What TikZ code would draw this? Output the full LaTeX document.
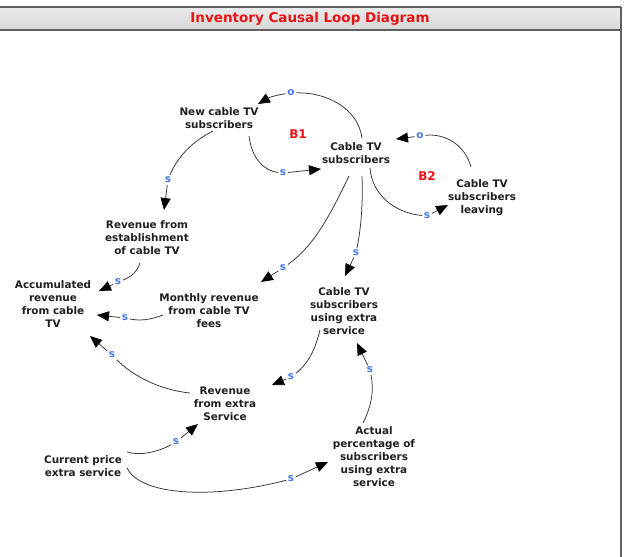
\documentclass[tikz,border=0pt]{standalone}
\usepackage{fontspec}
\setmainfont{DejaVu Sans}
\usetikzlibrary{arrows.meta,calc}
\definecolor{lblblue}{RGB}{70,120,235}
\definecolor{loopred}{RGB}{230,20,20}
\definecolor{framegray}{RGB}{95,95,95}
\definecolor{barlight}{RGB}{234,234,234}
\definecolor{bardark}{RGB}{216,216,216}
\begin{document}
\begin{tikzpicture}[x=1pt,y=-1pt,
  var/.style={font=\fontsize{10.4}{13}\selectfont\bfseries, align=center, inner sep=0pt, text=black!88},
  pol/.style={font=\fontsize{10.5}{10.5}\selectfont\bfseries, text=lblblue, inner sep=1.6pt},
  link/.style={draw=black!80, line width=0.75pt},
  arr/.style={link, -{Triangle[length=12pt,width=10pt,color=black]}},
  loopname/.style={font=\fontsize{12}{12}\selectfont\bfseries, text=loopred},
  titletext/.style={font=\fontsize{13.5}{13.5}\selectfont\bfseries, text=loopred}]
\useasboundingbox (0,0) rectangle (625,557);
% frame
\shade[top color=barlight, bottom color=bardark] (0,7) rectangle (621,30);
\draw[framegray, line width=1.5pt] (0,7) -- (621,7);
\draw[framegray, line width=1.5pt] (0,30) -- (621,30);
\draw[framegray, line width=1.5pt] (621,7) -- (621,557);
\node[titletext] (title) at (310,19) {Inventory Causal Loop Diagram};
% variables
\node[var] (ncts) at (219,118) {New cable TV\\subscribers};
\node[var] (cts)  at (356,153) {Cable TV\\subscribers};
\node[var] (ctsl) at (482,198) {Cable TV\\subscribers\\leaving};
\node[var] (rfe)  at (147,238) {Revenue from\\establishment\\of cable TV};
\node[var] (acc)  at (53,304)  {Accumulated\\revenue\\from cable\\TV};
\node[var] (mon)  at (209,311) {Monthly revenue\\from cable TV\\fees};
\node[var] (ctse) at (344,311) {Cable TV\\subscribers\\using extra\\service};
\node[var] (rfx)  at (225,404) {Revenue\\from extra\\Service};
\node[var] (cur)  at (83,466)  {Current price\\extra service};
\node[var] (act)  at (374,457) {Actual\\percentage of\\subscribers\\using extra\\service};
% loop names
\node[loopname] (b1) at (298,134) {B1};
\node[loopname] (b2) at (427,176) {B2};
% polarity labels
\node[pol] (o1)  at (291,93)  {o};
\node[pol] (s1)  at (283,173) {s};
\node[pol] (s2)  at (168,180) {s};
\node[pol] (s3)  at (427,216) {s};
\node[pol] (o2)  at (420,136) {o};
\node[pol] (s4)  at (283,268) {s};
\node[pol] (s5)  at (356,253) {s};
\node[pol] (s6)  at (118,282) {s};
\node[pol] (s7)  at (125,318) {s};
\node[pol] (s8)  at (112,355) {s};
\node[pol] (s9)  at (291,377) {s};
\node[pol] (s10) at (370,370) {s};
\node[pol] (s11) at (176,442) {s};
\node[pol] (s12) at (291,479) {s};
% C1 cts -> ncts
\draw[link] ($(cts.center)+(6,-15)$) .. controls ($(cts.center)+(2,-45)$) and ($(cts.center)+(-30,-61)$) .. (o1);
\draw[arr] (o1) .. controls (277,95) and (270,97) .. ($(ncts.center)+(39,-14)$);
% C2 ncts -> cts
\draw[link] ($(ncts.center)+(30,18)$) .. controls ($(ncts.center)+(33,42)$) and ($(ncts.center)+(46,53)$) .. (s1);
\draw[arr] (s1) -- ($(cts.center)+(-35,16)$);
% C3 ncts -> rfe
\draw[link] ($(ncts.center)+(-6,13)$) .. controls ($(ncts.center)+(-24,22)$) and ($(ncts.center)+(-41,37)$) .. (s2);
\draw[arr] (s2) -- ($(rfe.center)+(17,-28)$);
% C4 cts -> ctsl
\draw[link] ($(cts.center)+(14,15)$) .. controls ($(cts.center)+(16,42)$) and ($(cts.center)+(39,60)$) .. (s3);
\draw[arr] (s3) -- ($(ctsl.center)+(-34,7)$);
% C5 ctsl -> cts
\draw[link] ($(ctsl.center)+(-11,-31)$) .. controls ($(ctsl.center)+(-17,-53)$) and ($(ctsl.center)+(-37,-65)$) .. (o2);
\draw[arr] (o2) -- ($(cts.center)+(40,-14)$);
% C6 cts -> mon
\draw[link] ($(cts.center)+(-7,23)$) .. controls ($(cts.center)+(-26,62)$) and ($(cts.center)+(-41,92)$) .. (s4);
\draw[arr] (s4) -- ($(mon.center)+(52,-29)$);
% C7 cts -> ctse
\draw[link] ($(cts.center)+(6,23)$) .. controls ($(cts.center)+(7,52)$) and ($(cts.center)+(5,75)$) .. (s5);
\draw[arr] (s5) -- ($(ctse.center)+(1,-35)$);
% C8 rfe -> acc
\draw[link] ($(rfe.center)+(-7,25)$) .. controls ($(rfe.center)+(-10,34)$) and ($(rfe.center)+(-16,39)$) .. (s6);
\draw[arr] (s6) -- ($(acc.center)+(46,-13)$);
% C9 mon -> acc
\draw[link] ($(mon.center)+(-46,4)$) .. controls ($(mon.center)+(-59,9)$) and ($(mon.center)+(-69,10)$) .. (s7);
\draw[arr] (s7) -- ($(acc.center)+(44,11)$);
% C10 rfx -> acc
\draw[link] ($(rfx.center)+(-35,-11)$) .. controls ($(rfx.center)+(-65,-14)$) and ($(rfx.center)+(-92,-28)$) .. (s8);
\draw[arr] (s8) -- ($(acc.center)+(37,32)$);
% C11 ctse -> rfx
\draw[link] ($(ctse.center)+(-24,19)$) .. controls ($(ctse.center)+(-29,39)$) and ($(ctse.center)+(-36,53)$) .. (s9);
\draw[arr] (s9) -- ($(rfx.center)+(47,-19)$);
% C12 act -> ctse
\draw[link] ($(act.center)+(-11,-34)$) .. controls ($(act.center)+(-2,-52)$) and ($(act.center)+(0,-67)$) .. (s10);
\draw[arr] (s10) -- ($(ctse.center)+(13,32)$);
% C13 cur -> rfx
\draw[link] ($(cur.center)+(44,-14)$) .. controls ($(cur.center)+(57,-10)$) and ($(cur.center)+(75,-14)$) .. (s11);
\draw[arr] (s11) -- ($(rfx.center)+(-27,20)$);
% C14 cur -> act
\draw[link] ($(cur.center)+(44,2)$) .. controls ($(cur.center)+(57,29)$) and ($(cur.center)+(127,34)$) .. (s12);
\draw[arr] (s12) -- ($(act.center)+(-46,5)$);
\end{tikzpicture}
\end{document}
